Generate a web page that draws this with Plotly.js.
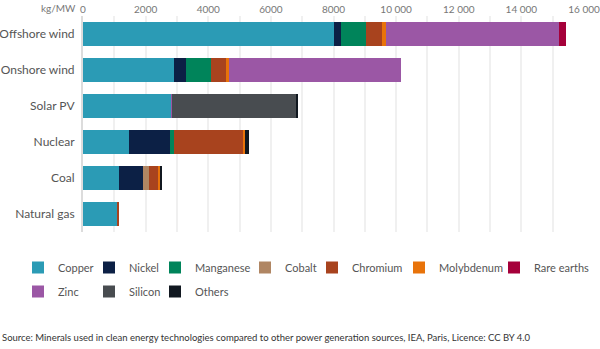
<!DOCTYPE html>
<html>
<head>
<meta charset="utf-8">
<script src="https://cdn.plot.ly/plotly-3.0.1.min.js"></script>
<style>html,body{margin:0;padding:0;background:#fff;}#chart{width:600px;height:349px;}</style>
</head>
<body>
<div id="chart"></div>
<script>
var categories = ['Offshore wind', 'Onshore wind', 'Solar PV', 'Nuclear', 'Coal', 'Natural gas'];
var copper     = [8000, 2900, 2822, 1473, 1150, 1075];
var nickel     = [240, 404, 0, 1297, 760, 20];
var manganese  = [790, 780, 0, 148, 0, 0];
var cobalt     = [0, 0, 0, 0, 200, 0];
var chromium   = [525, 470, 0, 2190, 280, 50];
var molybdenum = [109, 99, 0, 70, 64, 0];
var zinc       = [5530, 5500, 30, 0, 0, 0];
var rareEarths = [230, 14, 0, 0, 0, 0];
var silicon    = [0, 0, 3960, 0, 0, 0];
var others     = [0, 0, 60, 120, 74, 0];
var tickValues = [0, 2000, 4000, 6000, 8000, 10000, 12000, 14000, 16000];
var tickLabels = ['0', '2000', '4000', '6000', '8000', '10 000', '12 000', '14 000', '16 000'];

var series = [
  {name: 'Copper', values: copper, color: '#2b9bb5', legend: 'legend'},
  {name: 'Nickel', values: nickel, color: '#0c2045', legend: 'legend2'},
  {name: 'Manganese', values: manganese, color: '#00845a', legend: 'legend3'},
  {name: 'Cobalt', values: cobalt, color: '#b08663', legend: 'legend4'},
  {name: 'Chromium', values: chromium, color: '#a8431e', legend: 'legend5'},
  {name: 'Molybdenum', values: molybdenum, color: '#e8730a', legend: 'legend6'},
  {name: 'Zinc', values: zinc, color: '#9b57a5', legend: 'legend'},
  {name: 'Rare earths', values: rareEarths, color: '#a5003a', legend: 'legend7'},
  {name: 'Silicon', values: silicon, color: '#484c50', legend: 'legend2'},
  {name: 'Others', values: others, color: '#111820', legend: 'legend3'}
];

var traces = series.map(function (s) {
  return {
    type: 'bar', orientation: 'h', name: s.name, x: s.values, y: categories,
    marker: {color: s.color, line: {width: 0}}, legend: s.legend, legendgroup: s.name,
    hoverinfo: 'skip'
  };
});

var FONT = 'Lato, "Open Sans", sans-serif';
// plot area in pixels: x 83..584, y 16..232
function px2x(px) { return (px - 83) / 501; }
function py2y(py) { return (232 - py) / 216; }

function leg(xpx) {
  return {
    xref: 'paper', yref: 'paper', x: px2x(xpx), y: py2y(253),
    xanchor: 'left', yanchor: 'top', orientation: 'v', traceorder: 'grouped',
    tracegroupgap: 5, bgcolor: 'rgba(0,0,0,0)', borderwidth: 0,
    font: {family: FONT, size: 11, color: '#555'}
  };
}

var layout = {
  width: 600, height: 349,
  margin: {l: 83, r: 16, t: 16, b: 117, autoexpand: false},
  paper_bgcolor: '#fff', plot_bgcolor: '#fff',
  barmode: 'stack', bargap: 0.32,
  showlegend: true,
  font: {family: FONT, color: '#555'},
  xaxis: {
    side: 'top', range: [0, 16000], tickvals: tickValues, ticktext: tickLabels,
    showgrid: false, zeroline: false, showline: false, ticks: '',
    tickfont: {family: FONT, size: 10, color: '#777'},
    minor: {dtick: 1000, tick0: 0, showgrid: true, gridcolor: '#f0f0f0', gridwidth: 2, ticks: ''},
    fixedrange: true
  },
  yaxis: {
    type: 'category', categoryorder: 'array', categoryarray: categories, autorange: 'reversed',
    showgrid: false, zeroline: false, showline: true, linecolor: '#dcdcdc', linewidth: 2,
    ticks: '', ticklabelstandoff: 4, tickfont: {family: FONT, size: 12, color: '#555'},
    fixedrange: true
  },
  legend: leg(18), legend2: leg(89), legend3: leg(155), legend4: leg(245),
  legend5: leg(312), legend6: leg(399), legend7: leg(494),
  annotations: [
    {xref: 'paper', yref: 'paper', x: px2x(78), y: py2y(8), xanchor: 'right', yanchor: 'middle',
     text: 'kg/MW', showarrow: false, font: {family: FONT, size: 10, color: '#777'}},
    {xref: 'paper', yref: 'paper', x: px2x(0), y: py2y(337), xanchor: 'left', yanchor: 'middle',
     text: 'Source: Minerals used in clean energy technologies compared to other power generation sources, IEA, Paris, Licence: CC BY 4.0',
     showarrow: false, font: {family: FONT, size: 9.5, color: '#333'}}
  ]
};

Plotly.newPlot('chart', traces, layout, {displayModeBar: false, staticPlot: true});
</script>
</body>
</html>
